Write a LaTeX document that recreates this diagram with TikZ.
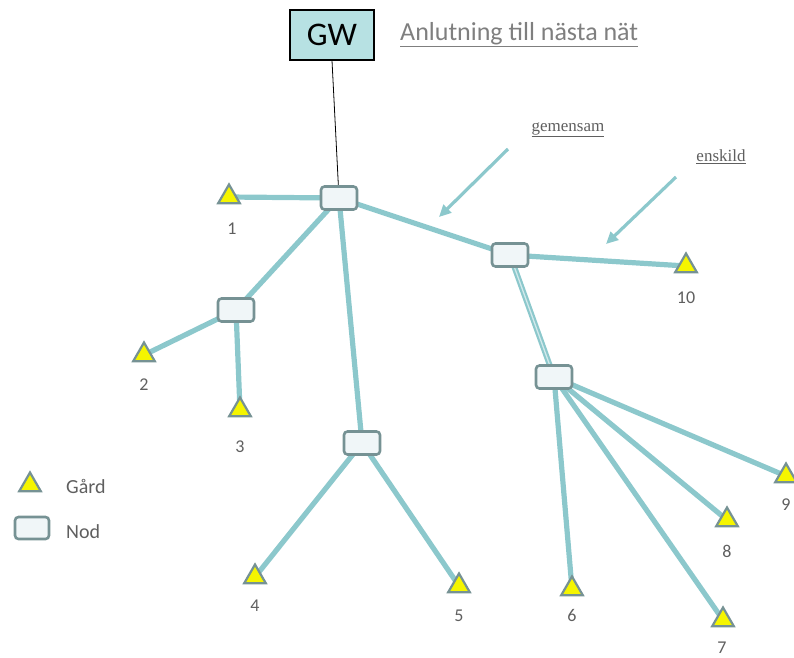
\documentclass[tikz,border=0pt]{standalone}
\usepackage{fontspec}
\setmainfont{Carlito}
\newfontfamily\serifsmall{Liberation Serif}
\usetikzlibrary{shapes.geometric,backgrounds,arrows.meta}
\definecolor{edgec}{RGB}{140,200,204}
\definecolor{bordc}{RGB}{118,146,148}
\definecolor{nodefill}{RGB}{240,246,248}
\definecolor{gwfill}{RGB}{183,225,227}
\definecolor{farmy}{RGB}{245,245,0}
\definecolor{labc}{RGB}{95,95,95}
\tikzset{
  nodbox/.style={draw=bordc,line width=2.6pt,fill=nodefill,rounded corners=3.5pt,minimum width=36pt,minimum height=23pt,inner sep=0pt},
  gard/.style={regular polygon,regular polygon sides=3,draw=bordc,line width=2.2pt,fill=farmy,minimum size=25pt,inner sep=0pt},
  conn/.style={draw=edgec,line width=5.2pt},
  lab/.style={text=labc,font=\fontsize{18}{20}\selectfont,inner sep=0pt},
  pointer/.style={draw=edgec,line width=3.2pt,-{Triangle[length=12pt,width=11pt]}},
  note/.style={text=labc,font=\serifsmall\fontsize{17}{18}\selectfont,inner sep=1pt}
}
\begin{document}
\begin{tikzpicture}[x=1pt,y=1pt]
\useasboundingbox (0,0) rectangle (794,-657);
% gateway
\node[draw=black,line width=1.2pt,fill=gwfill,minimum width=84pt,minimum height=50pt,inner sep=0pt,font=\fontsize{33}{35}\selectfont] (gw) at (332,-35) {GW};
\node[text=labc!80,font=\fontsize{26}{28}\selectfont,inner sep=0pt,anchor=west] (anl) at (400,-35) {\underline{Anlutning till nästa nät}};
% nodes
\node[nodbox] (A) at (339,-198) {};
\node[nodbox] (B) at (510,-255) {};
\node[nodbox] (C) at (236,-310) {};
\node[nodbox] (D) at (554,-377) {};
\node[nodbox] (E) at (362,-443) {};
% farms
\node[gard] (g1) at (229,-197) {};
\node[gard] (g2) at (144,-355) {};
\node[gard] (g3) at (240,-410) {};
\node[gard] (g4) at (255,-577) {};
\node[gard] (g5) at (459,-586) {};
\node[gard] (g6) at (572,-589) {};
\node[gard] (g7) at (723,-620) {};
\node[gard] (g8) at (727,-520) {};
\node[gard] (g9) at (786,-476) {};
\node[gard] (g10) at (686,-266) {};
% farm labels
\node[lab] (l1) at (232,-229) {1};
\node[lab] (l2) at (144,-385) {2};
\node[lab] (l3) at (240,-447) {3};
\node[lab] (l4) at (255,-606) {4};
\node[lab] (l5) at (459,-616) {5};
\node[lab] (l6) at (572,-615) {6};
\node[lab] (l7) at (722,-648) {7};
\node[lab] (l8) at (727,-551) {8};
\node[lab] (l9) at (786,-505) {9};
\node[lab] (l10) at (686,-298) {10};
% connectors behind nodes
\begin{scope}[on background layer]
\draw[black,line width=0.8pt] (gw.south) -- (A.center);
\draw[conn] (g1.center) -- (A.center);
\draw[conn] (A.center) -- (C.center);
\draw[conn] (C.center) -- (g2.center);
\draw[conn] (C.center) -- (g3.center);
\draw[conn] (A.center) -- (E.center);
\draw[conn] (E.center) -- (g4.center);
\draw[conn] (E.center) -- (g5.center);
\draw[conn] (A.center) -- (B.center);
\draw[conn] (B.center) -- (g10.center);
\draw[draw=edgec,line width=2.2pt,double=edgec!40,double distance=1.3pt] (B.center) -- (D.center);
\draw[conn] (D.center) -- (g6.center);
\draw[conn] (D.center) -- (g7.center);
\draw[conn] (D.center) -- (g8.center);
\draw[conn] (D.center) -- (g9.center);
\end{scope}
% pointers
\node[note] (gem) at (568,-130) {\underline{gemensam}};
\node[note] (ens) at (721,-157) {\underline{enskild}};
\coordinate (p1s) at (508,-149);
\coordinate (p1e) at (439,-217);
\coordinate (p2s) at (676,-177);
\coordinate (p2e) at (606,-244);
\draw[pointer] (p1s) -- (p1e);
\draw[pointer] (p2s) -- (p2e);
% legend
\node[gard] (lg) at (30,-485) {};
\node[text=labc,font=\fontsize{20}{22}\selectfont,inner sep=0pt,anchor=west] (lgt) at (66,-486) {Gård};
\node[nodbox,minimum width=34pt,minimum height=22pt] (ln) at (32,-528) {};
\node[text=labc,font=\fontsize{20}{22}\selectfont,inner sep=0pt,anchor=west] (lnt) at (66,-532) {Nod};
\end{tikzpicture}
\end{document}
